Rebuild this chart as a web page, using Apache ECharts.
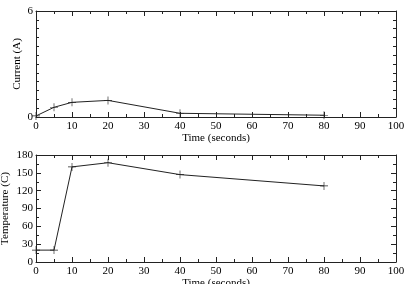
<!DOCTYPE html>
<html>
<head>
<meta charset="utf-8">
<script src="https://cdn.jsdelivr.net/npm/echarts@6/dist/echarts.min.js"></script>
<style>
  html, body { margin: 0; padding: 0; background: #fff; }
</style>
</head>
<body>
<div id="main" style="width:405px;height:284px;"></div>
<script>
// time points (seconds)
var timeCurrent = [0, 5, 10, 20, 40, 80];
var currentVals = [0.06, 0.55, 0.83, 0.94, 0.21, 0.1];
var timeTemp = [0, 5, 10, 20, 40, 80];
var tempVals = [20, 20, 160, 167, 147, 128];

var lineColor = '#222';
var font = 'Liberation Serif';
var plus = 'path://M0,4.6H10V5.4H0Z M4.6,0H5.4V10H4.6Z';

function pairs(xs, ys) {
    return xs.map(function (x, i) { return [x, ys[i]]; });
}

function xAx(grid, pos, showLabel, name) {
    return {
        type: 'value', gridIndex: grid, position: pos,
        min: 0, max: 100, interval: 10,
        name: name || '', nameLocation: 'middle', nameGap: 15,
        nameTextStyle: { fontFamily: font, fontSize: 11, color: '#000' },
        axisLine: { show: true, onZero: false, lineStyle: { color: lineColor, width: 1 } },
        axisTick: { show: true, inside: true, length: 5, lineStyle: { color: lineColor } },
        minorTick: { show: true, splitNumber: 2, length: 3, lineStyle: { color: lineColor } },
        axisLabel: { show: showLabel, fontFamily: font, fontSize: 11, color: '#000', margin: 4 },
        splitLine: { show: false }
    };
}

function yAx(grid, pos, showLabel, max, interval, minorSplit, name, nameGap) {
    return {
        type: 'value', gridIndex: grid, position: pos,
        min: 0, max: max, interval: interval,
        name: name || '', nameLocation: 'middle', nameGap: nameGap || 0,
        nameMoveOverlap: false,
        nameTextStyle: { fontFamily: font, fontSize: 11, color: '#000' },
        axisLine: { show: true, onZero: false, lineStyle: { color: lineColor, width: 1 } },
        axisTick: { show: true, inside: true, length: 5, lineStyle: { color: lineColor } },
        minorTick: { show: true, splitNumber: minorSplit, length: 3, lineStyle: { color: lineColor } },
        axisLabel: { show: showLabel, fontFamily: font, fontSize: 11, color: '#000', margin: 3 },
        splitLine: { show: false }
    };
}

var chart = echarts.init(document.getElementById('main'));
chart.setOption({
    animation: false,
    backgroundColor: '#fff',
    grid: [
        { left: 36, top: 11, width: 360, height: 106, outerBoundsMode: 'none' },
        { left: 36, top: 155, width: 360, height: 107, outerBoundsMode: 'none' }
    ],
    xAxis: [
        xAx(0, 'bottom', true, 'Time (seconds)'),
        xAx(0, 'top', false),
        xAx(1, 'bottom', true, 'Time (seconds)'),
        xAx(1, 'top', false)
    ],
    yAxis: [
        yAx(0, 'left', true, 6, 6, 12, 'Current (A)', 13),
        yAx(0, 'right', false, 6, 6, 12),
        yAx(1, 'left', true, 180, 30, 2, 'Temperature (C)', 25),
        yAx(1, 'right', false, 180, 30, 2)
    ],
    series: [
        {
            type: 'line', xAxisIndex: 0, yAxisIndex: 0,
            data: pairs(timeCurrent, currentVals),
            symbol: plus, symbolSize: 8,
            itemStyle: { color: lineColor },
            lineStyle: { color: lineColor, width: 1 }
        },
        {
            type: 'line', xAxisIndex: 2, yAxisIndex: 2,
            data: pairs(timeTemp, tempVals),
            symbol: plus, symbolSize: 8,
            itemStyle: { color: lineColor },
            lineStyle: { color: lineColor, width: 1 }
        }
    ]
});
</script>
</body>
</html>
